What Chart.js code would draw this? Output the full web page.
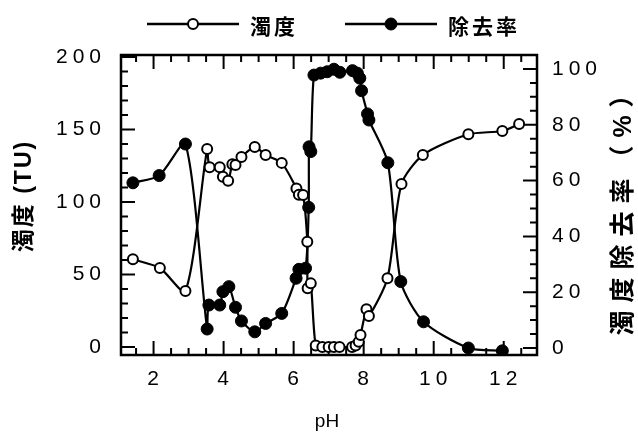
<!DOCTYPE html>
<html>
<head>
<meta charset="utf-8">
<script src="https://cdn.jsdelivr.net/npm/chart.js@4.4.1/dist/chart.umd.min.js"></script>
<style>
  html, body { margin: 0; padding: 0; background: #fff; }
  canvas { display: block; }
</style>
</head>
<body>
<canvas id="chart" width="638" height="432"></canvas>
<script>
(function () {
  'use strict';

  // 濁度 (TU), left axis
  var phTurbidity = [1.41, 2.18, 2.91, 3.53, 3.60, 3.89, 3.98, 4.13, 4.25, 4.34, 4.51, 4.89, 5.20, 5.66,
                     6.08, 6.15, 6.27, 6.39, 6.40, 6.49, 6.63, 6.82, 7.00, 7.15, 7.31, 7.67, 7.77, 7.86,
                     7.91, 8.08, 8.15, 8.68, 9.08, 9.69, 10.99, 11.96, 12.44];
  var turbidity   = [60.5, 54.5, 38.6, 136.5, 124, 124, 117.5, 114.7, 126, 125.5, 131, 138, 132.4, 127,
                     109.4, 105, 104.8, 72.6, 40.5, 43.9, 1, 0, 0, 0, 0, 0, 1, 3.6,
                     8.3, 26, 21.4, 47.4, 112.4, 132.4, 146.7, 149, 153.8];

  // 除去率 (%), right axis
  var phRemoval   = [1.41, 2.16, 2.91, 3.53, 3.58, 3.89, 3.98, 4.15, 4.34, 4.51, 4.89, 5.20, 5.66, 6.07,
                     6.15, 6.34, 6.43, 6.44, 6.49, 6.58, 6.77, 6.96, 7.15, 7.32, 7.68, 7.82, 7.89, 7.94,
                     8.11, 8.15, 8.69, 9.06, 9.71, 10.99, 11.96];
  var removalRate = [59.2, 61.8, 73.1, 6.8, 15.4, 15.4, 20.2, 22.0, 14.6, 9.7, 5.8, 8.8, 12.4, 25,
                     28.2, 28.6, 50.4, 72.1, 70.4, 97.8, 98.5, 99, 99.9, 98.8, 99.4, 98.5, 96.7, 92.2,
                     83.9, 81.7, 66.4, 23.8, 9.4, 0, -1];

  var phTicks        = [2, 4, 6, 8, 10, 12];
  var turbidityTicks = [0, 50, 100, 150, 200];
  var removalTicks   = [0, 20, 40, 60, 80, 100];

  var seriesLabels = ['濁度', '除去率'];
  var leftTitle  = '濁度 (TU)';
  var rightTitle = '濁度除去率（%）';
  var xTitle     = 'pH';

  var LATIN = '"Liberation Sans", Arial, sans-serif';
  var MIXED = '"Liberation Sans", "Noto Sans CJK JP", sans-serif';

  function toPoints(xs, ys) {
    return xs.map(function (x, i) { return { x: x, y: ys[i] }; });
  }

  function fixedTicks(list) {
    return function (scale) {
      scale.ticks = list.map(function (v) { return { value: v }; });
    };
  }

  // wide-set digits on the tick labels
  var spacing = {
    id: 'spacing',
    beforeLayout: function (chart) { chart.ctx.letterSpacing = '5px'; },
    beforeDraw:   function (chart) { chart.ctx.letterSpacing = '5px'; }
  };

  // box frame with inward tick marks on all four sides
  var frame = {
    id: 'frame',
    beforeDatasetsDraw: function (chart) {
      var ctx = chart.ctx, a = chart.chartArea, s = chart.scales;
      var v, p, len;
      ctx.save();
      ctx.strokeStyle = '#000';
      ctx.lineWidth = 2;
      ctx.beginPath();
      for (v = 1.5; v <= 12.5; v += 0.5) {
        p = s.x.getPixelForValue(v);
        len = v % 2 === 0 ? 14 : 7;
        ctx.moveTo(p, a.bottom); ctx.lineTo(p, a.bottom - len);
        ctx.moveTo(p, a.top);    ctx.lineTo(p, a.top + len);
      }
      for (v = 0; v <= 200; v += 10) {
        p = s.y.getPixelForValue(v);
        len = v % 50 === 0 ? 14 : 7;
        ctx.moveTo(a.left, p); ctx.lineTo(a.left + len, p);
      }
      for (v = 0; v <= 100; v += 5) {
        p = s.y2.getPixelForValue(v);
        len = v % 20 === 0 ? 14 : 7;
        ctx.moveTo(a.right, p); ctx.lineTo(a.right - len, p);
      }
      ctx.stroke();
      ctx.lineWidth = 2.5;
      ctx.strokeRect(a.left, a.top, a.right - a.left, a.bottom - a.top);
      ctx.restore();
    }
  };

  // axis titles and the legend row
  var legendX = [147, 345];
  var titles = {
    id: 'titles',
    afterDraw: function (chart) {
      var ctx = chart.ctx, a = chart.chartArea;
      var midY = (a.top + a.bottom) / 2;
      ctx.save();
      ctx.fillStyle = '#000';
      ctx.textBaseline = 'middle';
      ctx.textAlign = 'center';

      ctx.letterSpacing = '2px';
      ctx.font = 'bold 23px ' + MIXED;
      ctx.save();
      ctx.translate(25, midY);
      ctx.rotate(-Math.PI / 2);
      ctx.fillText(leftTitle, 9, 0);
      ctx.restore();

      ctx.letterSpacing = '8px';
      ctx.font = 'bold 25px ' + MIXED;
      ctx.save();
      ctx.translate(624, midY + 10);
      ctx.rotate(-Math.PI / 2);
      ctx.fillText(rightTitle, 10, 0);
      ctx.restore();

      ctx.letterSpacing = '0px';
      ctx.font = '19px ' + LATIN;
      ctx.textBaseline = 'alphabetic';
      ctx.fillText(xTitle, (a.left + a.right) / 2 - 2, 427);

      chart.data.datasets.forEach(function (ds, i) {
        var x0 = legendX[i], y = 24;
        ctx.strokeStyle = ds.borderColor;
        ctx.lineWidth = 2.5;
        ctx.beginPath();
        ctx.moveTo(x0, y); ctx.lineTo(x0 + 92, y);
        ctx.stroke();
        ctx.beginPath();
        ctx.arc(x0 + 46, y, ds.pointRadius, 0, Math.PI * 2);
        ctx.fillStyle = ds.pointBackgroundColor;
        ctx.fill();
        ctx.lineWidth = ds.pointBorderWidth;
        ctx.stroke();
        ctx.fillStyle = '#000';
        ctx.textAlign = 'left';
        ctx.textBaseline = 'middle';
        ctx.letterSpacing = '3px';
        ctx.font = 'bold 21px "Noto Sans CJK JP", sans-serif';
        ctx.fillText(ds.label, x0 + 103, y + 2);
      });
      ctx.restore();
    }
  };

  var tickFont = { family: LATIN, size: 21 };

  new Chart(document.getElementById('chart'), {
    type: 'scatter',
    data: {
      datasets: [
        {
          label: seriesLabels[0],
          data: toPoints(phTurbidity, turbidity),
          yAxisID: 'y',
          showLine: true,
          borderColor: '#000',
          borderWidth: 2.2,
          tension: 0.25,
          pointRadius: 5,
          pointBackgroundColor: '#fff',
          pointBorderColor: '#000',
          pointBorderWidth: 2
        },
        {
          label: seriesLabels[1],
          data: toPoints(phRemoval, removalRate),
          yAxisID: 'y2',
          showLine: true,
          borderColor: '#000',
          borderWidth: 2.2,
          tension: 0.25,
          pointRadius: 6,
          pointBackgroundColor: '#000',
          pointBorderColor: '#000',
          pointBorderWidth: 1
        }
      ]
    },
    options: {
      responsive: false,
      animation: false,
      devicePixelRatio: 1,
      layout: { padding: { top: 55, left: 0, right: 0, bottom: 0 } },
      plugins: { legend: { display: false }, tooltip: { enabled: false } },
      scales: {
        x: {
          type: 'linear', position: 'bottom', min: 1.07, max: 12.95,
          grid: { display: false, drawTicks: false }, border: { display: false },
          afterBuildTicks: fixedTicks(phTicks),
          afterFit: function (s) { s.height = 77; },
          ticks: { autoSkip: false, maxRotation: 0, padding: 12, labelOffset: 2, color: '#000', font: tickFont }
        },
        y: {
          type: 'linear', position: 'left', min: -5.5, max: 201.4,
          grid: { display: false, drawTicks: false }, border: { display: false },
          afterBuildTicks: fixedTicks(turbidityTicks),
          afterFit: function (s) { s.width = 121; },
          ticks: { padding: 15, color: '#000', font: tickFont }
        },
        y2: {
          type: 'linear', position: 'right', min: -2.5, max: 105,
          grid: { display: false, drawTicks: false }, border: { display: false },
          afterBuildTicks: fixedTicks(removalTicks),
          afterFit: function (s) { s.width = 101; },
          ticks: { padding: 15, color: '#000', font: tickFont }
        }
      }
    },
    plugins: [spacing, frame, titles]
  });
})();
</script>
</body>
</html>
